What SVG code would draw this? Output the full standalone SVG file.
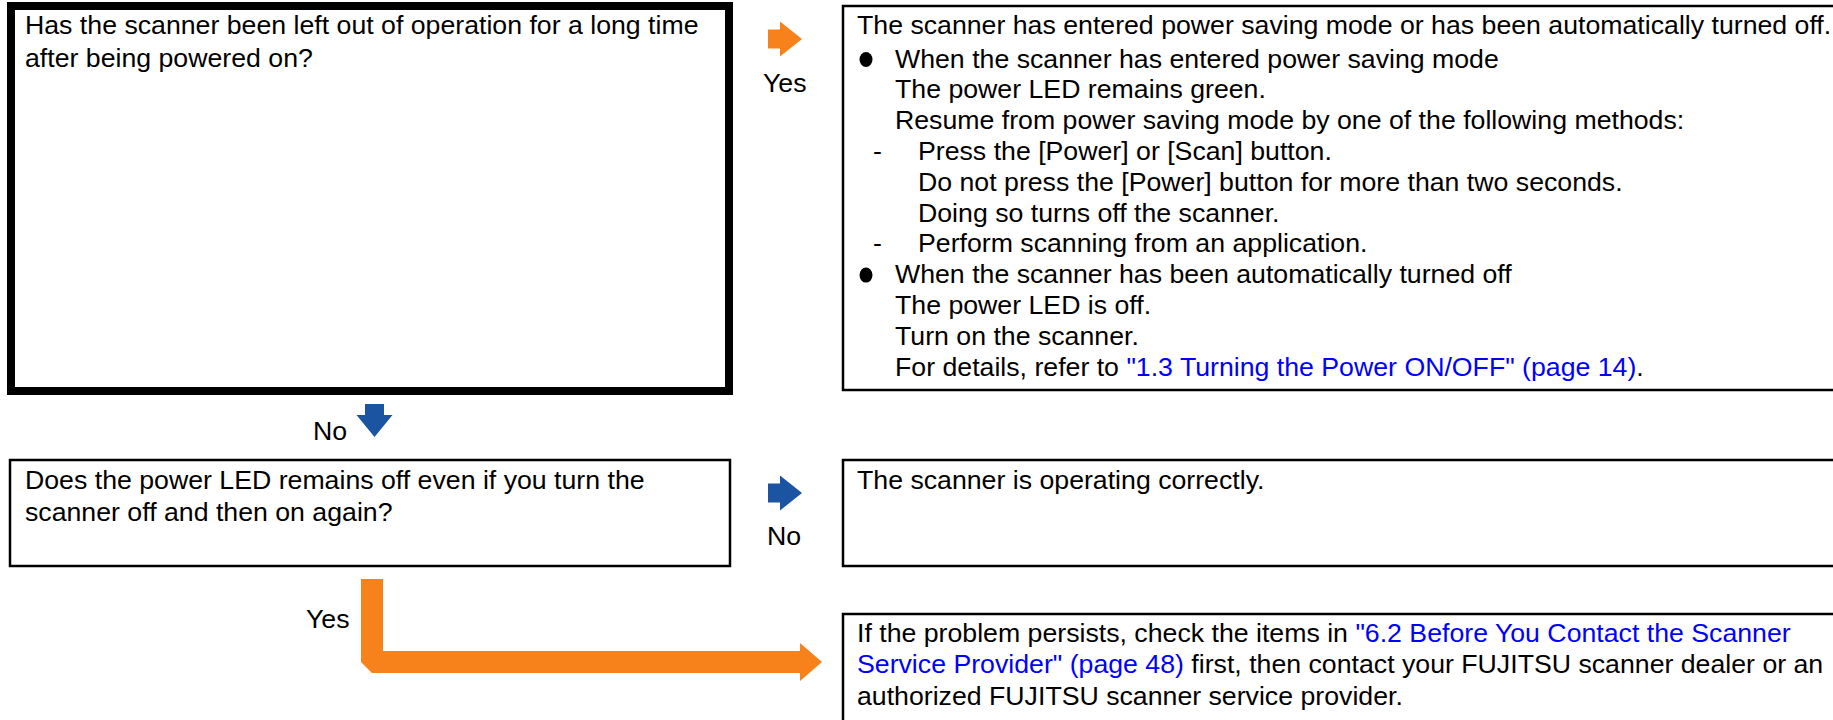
<svg xmlns="http://www.w3.org/2000/svg" width="1833" height="720" viewBox="0 0 1833 720">
<style>
text{font-family:"Liberation Sans",Arial,sans-serif;font-size:26.7px;fill:#000}
.lk{fill:#0000ff}
.box{fill:#fff;stroke:#000;stroke-width:2.5}
.thick{fill:#fff;stroke:#000;stroke-width:8}
.or{fill:#f7821b}
.bl{fill:#1b54a0}
</style>
<rect width="1833" height="720" fill="#fff"/>
<g id="q1">
<rect class="thick" x="11" y="6" width="718" height="385"/>
<text x="25" y="34">Has the scanner been left out of operation for a long time</text>
<text x="25" y="67">after being powered on?</text>
</g>
<g id="a1">
<rect class="box" x="843" y="6" width="1010" height="384"/>
<text x="857" y="34">The scanner has entered power saving mode or has been automatically turned off.</text>
<ellipse cx="866" cy="59.5" rx="6.5" ry="7.5"/>
<text x="895" y="67.5">When the scanner has entered power saving mode</text>
<text x="895" y="98.3">The power LED remains green.</text>
<text x="895" y="129.1">Resume from power saving mode by one of the following methods:</text>
<text x="873" y="159.9">-</text>
<text x="918" y="159.9">Press the [Power] or [Scan] button.</text>
<text x="918" y="190.7">Do not press the [Power] button for more than two seconds.</text>
<text x="918" y="221.5">Doing so turns off the scanner.</text>
<text x="873" y="252.3">-</text>
<text x="918" y="252.3">Perform scanning from an application.</text>
<ellipse cx="866" cy="275.1" rx="6.5" ry="7.5"/>
<text x="895" y="283.1">When the scanner has been automatically turned off</text>
<text x="895" y="313.9">The power LED is off.</text>
<text x="895" y="344.7">Turn on the scanner.</text>
<text x="895" y="375.5">For details, refer to <tspan class="lk">"1.3 Turning the Power ON/OFF" (page 14)</tspan>.</text>
</g>
<g id="q2">
<rect class="box" x="10" y="460" width="720" height="106"/>
<text x="25" y="489">Does the power LED remains off even if you turn the</text>
<text x="25" y="520.5">scanner off and then on again?</text>
</g>
<g id="a2">
<rect class="box" x="843" y="460" width="1010" height="106"/>
<text x="857" y="489">The scanner is operating correctly.</text>
</g>
<g id="a3">
<rect class="box" x="843" y="614" width="1010" height="130"/>
<text x="857" y="641.5">If the problem persists, check the items in <tspan class="lk">"6.2 Before You Contact the Scanner</tspan></text>
<text x="857" y="673"><tspan class="lk">Service Provider" (page 48)</tspan> first, then contact your FUJITSU scanner dealer or an</text>
<text x="857" y="704.5">authorized FUJITSU scanner service provider.</text>
</g>
<g id="connectors">
<polygon class="or" points="768,29.5 780,29.5 780,21.5 802,39 780,56.5 780,48.5 768,48.5"/>
<text x="763" y="92">Yes</text>
<polygon class="bl" points="365,404 384,404 384,415 392.5,415 374.5,437 356.5,415 365,415"/>
<text x="313" y="440">No</text>
<polygon class="bl" points="768,483.5 780,483.5 780,475.5 802,493 780,510.5 780,502.5 768,502.5"/>
<text x="767" y="545">No</text>
<polygon class="or" points="361,579 383,579 383,651 800,651 800,643 822,662 800,681 800,673 372,673 361,662"/>
<text x="306" y="628">Yes</text>
</g>
</svg>
